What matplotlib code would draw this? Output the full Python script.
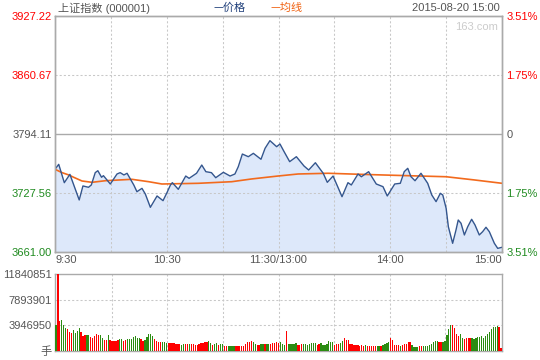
import numpy as np
import matplotlib
matplotlib.use('Agg')
import matplotlib.pyplot as plt

plt.rcParams['font.family'] = ['Liberation Sans', 'Noto Sans CJK SC', 'DejaVu Sans']

# 价格折线的关键点 (分钟, 指数)
price_t = [0, 2, 5, 8, 13, 15, 18, 19.5, 21.6, 23, 25, 26, 29.7, 33.3, 35, 37, 38.7,
           42.3, 44, 45.3, 46.7, 48.5, 51.2, 53, 54.8, 58, 60.1, 62, 63, 66.2, 70.2,
           72, 76, 78.8, 81, 84, 86.3, 90.4, 94, 96.6, 98.4, 100.6, 103.8, 106.5,
           110.6, 112.8, 115.4, 119, 120.8, 123, 126, 129.6, 133.7, 136.2, 139.8,
           144, 146.2, 149.3, 154.1, 157.3, 159.1, 162.7, 164.5, 168.4, 172.5,
           176.1, 178.4, 182.4, 185.4, 187.5, 189.4, 191.1, 193.3, 196.5, 200.1,
           202.3, 204.6, 206.9, 208.2, 210, 211.2, 213.5, 215.3, 216.5, 218, 219.8,
           221.6, 223.7, 225.5, 227.8, 229.6, 231.4, 233.2, 235.9, 237.7, 240]
price_v = [3754.3, 3759.9, 3739.2, 3748.6, 3719.7, 3735.5, 3734.0, 3736.6, 3750.5,
           3752.7, 3745.3, 3747.1, 3737.7, 3749.0, 3750.5, 3747.9, 3749.8, 3736.6,
           3729.0, 3730.9, 3732.8, 3726.4, 3711.4, 3717.8, 3724.2, 3718.9, 3727.9,
           3736.6, 3739.2, 3731.7, 3746.7, 3744.1, 3749.8, 3759.1, 3751.6, 3750.5,
           3744.8, 3750.9, 3746.7, 3749.0, 3757.2, 3771.5, 3768.5, 3772.3, 3765.6,
           3778.0, 3786.6, 3779.8, 3782.8, 3774.2, 3762.9, 3768.5, 3758.0, 3753.5,
           3761.7, 3749.8, 3739.6, 3746.7, 3723.4, 3739.2, 3736.6, 3749.0, 3745.9,
           3751.6, 3737.7, 3734.7, 3724.2, 3737.7, 3738.5, 3751.6, 3755.4, 3746.0,
           3741.4, 3749.8, 3738.5, 3725.3, 3717.8, 3727.2, 3725.3, 3710.3, 3689.5,
           3670.8, 3685.8, 3697.1, 3693.4, 3680.2, 3689.5, 3697.9, 3691.5, 3680.2,
           3683.9, 3688.9, 3683.9, 3670.8, 3665.1, 3666.3]

# 均线
avg_t = [0, 3.8, 7.4, 10, 14.5, 19.9, 27, 41.3, 50.3, 57.4, 77, 94.9, 105.6, 119.7,
         130.5, 146.6, 164.5, 182.4, 210, 225.1, 240]
avg_v = [3754.3, 3750.5, 3747.9, 3745.3, 3741.1, 3739.6, 3741.4, 3743.0, 3740.3,
         3737.7, 3738.5, 3740.3, 3743.4, 3746.7, 3749.0, 3749.8, 3748.6, 3747.5,
         3745.9, 3742.3, 3738.5]

# 成交量 (万手)
volume = [400, 1184, 462, 477, 400, 349, 333, 298, 282, 323,
          282, 308, 359, 292, 231, 241, 241, 241, 210, 205,
          226, 267, 246, 246, 205, 169, 169, 246, 169, 154,
          149, 154, 164, 185, 185, 154, 174, 190, 190, 190,
          215, 231, 200, 205, 185, 159, 174, 210, 256, 262,
          226, 190, 154, 133, 133, 139, 139, 123, 118, 123,
          123, 123, 113, 113, 103, 92, 103, 108, 108, 108,
          108, 103, 92, 92, 103, 118, 128, 133, 144, 154,
          118, 92, 103, 118, 92, 113, 103, 77, 77, 77,
          77, 77, 77, 77, 77, 77, 77, 77, 113, 133,
          144, 154, 133, 113, 92, 92, 108, 103, 103, 103,
          108, 113, 128, 128, 133,
          118, 133, 103, 92, 308, 103, 103, 108, 108, 118,
          92, 92, 103, 103, 103, 92, 103, 118, 118, 118,
          92, 103, 118, 92, 92, 103, 149, 144, 133, 92,
          103, 103, 118, 154, 195, 169, 169, 108, 108, 92,
          92, 92, 82, 92, 82, 92, 77, 77, 77, 77,
          77, 77, 77, 82, 92, 108, 123, 139, 195, 169,
          92, 92, 92, 82, 92, 103, 113, 133, 133, 92,
          67, 67, 67, 77, 77, 77, 77, 77, 92, 108,
          133, 154, 154, 133, 133, 133, 154, 246, 339, 400,
          400, 359, 256, 236, 256, 205, 180, 195, 205, 195,
          195, 180, 205, 221, 221, 236, 205, 236, 256, 298,
          339, 369, 369, 385, 374, 51]
vol_color = ('grrgggrrrg' 'gggrrrggrr' 'rrrggrrgrr' 'rrrggrrggg' 'ggggrrgggg'
             'grrrrgggrr' 'rrrrrggrrg' 'rrrrrrrrrg' 'grggrggrrg' 'gggrrrrrrr'
             'rrggrrggrg' 'grrrr'
             'rgggrggggg' 'rrrggggggg' 'rrgggggggr' 'rrggrrrrrr' 'rrrrrgrrrr'
             'rggrggggrr' 'rrrgrrrrrg' 'gggrrggggg' 'gggrrggggg' 'rrrrggrrrr'
             'gggggggggg' 'ggggrr')

y_ticks = [3661.00, 3727.56, 3794.11, 3860.67, 3927.22]
y_right = ['3.51%', '1.75%', '0', '1.75%', '3.51%']
vol_ticks = [0, 3946950, 7893901, 11840851]
x_ticks = [0, 60, 120, 180, 240]
x_labels = ['9:30', '10:30', '11:30/13:00', '14:00', '15:00']

RED = '#ff0000'
GREEN = '#1f8a1f'
GRAY = '#555555'
EDGE = '#aaaaaa'
DASH = '#c8c8c8'
tick_colors = [GREEN, GREEN, GRAY, RED, RED]

fig = plt.figure(figsize=(5.4, 3.6), dpi=100)
ax = fig.add_axes([55 / 540, 1 - 252 / 360, 447 / 540, 236 / 360])
axv = fig.add_axes([55 / 540, 1 - 351 / 360, 447 / 540, 77 / 360])

# 价格
ax.fill_between(price_t, price_v, y_ticks[0], color='#dde8fa', lw=0)
ax.plot(price_t, price_v, color='#34568e', lw=1.0, zorder=4)
ax.plot(avg_t, avg_v, color='#f26a1d', lw=1.2, zorder=3)
ax.set_xlim(0, 240)
ax.set_ylim(y_ticks[0], y_ticks[-1])
for t in range(30, 240, 30):
    ax.axvline(t, color=DASH, lw=0.75, ls=(0, (2, 2)), zorder=1)
ax.axhline(y_ticks[1], color=DASH, lw=0.75, ls=(0, (2, 2)), zorder=1)
ax.axhline(y_ticks[3], color=DASH, lw=0.75, ls=(0, (2, 2)), zorder=1)
ax.axhline(y_ticks[2], color=EDGE, lw=1.0, zorder=1)

ax.set_yticks(y_ticks)
ax.set_yticklabels(['%.2f' % v for v in y_ticks])
ax.tick_params(length=0, labelsize=8, pad=2.5)
for lab, c in zip(ax.get_yticklabels(), tick_colors):
    lab.set_color(c)
ax2 = ax.twinx()
ax2.set_ylim(ax.get_ylim())
ax2.set_yticks(y_ticks)
ax2.set_yticklabels(y_right)
ax2.tick_params(length=0, labelsize=8, pad=3)
for lab, c in zip(ax2.get_yticklabels(), tick_colors):
    lab.set_color(c)
ax.set_xticks(x_ticks)
ax.set_xticklabels(x_labels, color=GRAY)
ax.tick_params(axis='x', pad=2)
xl = ax.get_xticklabels()
xl[0].set_ha('left')
xl[-1].set_ha('right')
for a in (ax, ax2, axv):
    for s in a.spines.values():
        s.set_color(EDGE)
        s.set_linewidth(1.0)
ax.text(0.99, 0.955, '163.com', transform=ax.transAxes, ha='right', va='center',
        color='#cccccc', fontsize=8)

# 成交量
n = len(volume)
vx = np.linspace(0, 240, n)
vcols = [RED if c == 'r' else '#2b8c12' for c in vol_color[:n]]
axv.bar(vx, np.array(volume) * 1e4, width=0.7, color=vcols, lw=0, zorder=3,
        antialiased=False)
axv.set_xlim(-0.5, 240.5)
axv.set_ylim(0, vol_ticks[-1])
for t in range(30, 240, 30):
    axv.axvline(t, color=DASH, lw=0.75, ls=(0, (2, 2)), zorder=1)
for v in vol_ticks[1:3]:
    axv.axhline(v, color=DASH, lw=0.75, ls=(0, (2, 2)), zorder=1)
axv.set_xticks([])
axv.set_yticks(vol_ticks)
axv.set_yticklabels(['手'] + [str(v) for v in vol_ticks[1:]], color=GRAY)
axv.tick_params(length=0, labelsize=8, pad=2.5)

# 标题行
fig.text(58 / 540, 1 - 8 / 360, '上证指数 (000001)', color=GRAY, fontsize=8, va='center')
fig.text(213 / 540, 1 - 8 / 360, '—价格', color='#1f3f7a', fontsize=8, va='center',
         family=['Noto Sans CJK SC'])
fig.text(270 / 540, 1 - 8 / 360, '—均线', color='#f0600f', fontsize=8, va='center',
         family=['Noto Sans CJK SC'])
fig.text(500 / 540, 1 - 8 / 360, '2015-08-20 15:00', color=GRAY, fontsize=8,
         va='center', ha='right')

fig.savefig('out.png', dpi=100)
